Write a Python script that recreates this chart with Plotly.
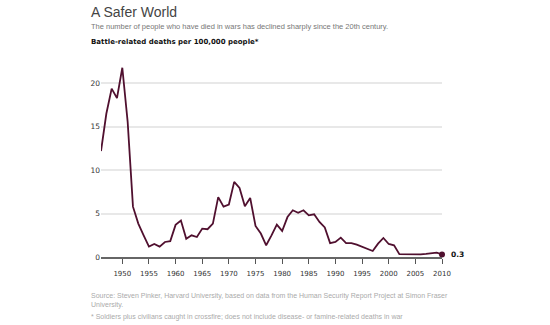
import plotly.graph_objects as go

years = list(range(1946, 2011))
deaths = [12.2, 16.5, 19.4, 18.3, 21.8, 15.6, 5.8, 3.85, 2.5, 1.2,
          1.5, 1.2, 1.73, 1.83, 3.7, 4.2, 2.1, 2.5, 2.3, 3.27,
          3.2, 3.85, 6.9, 5.8, 6.04, 8.65, 7.95, 5.85, 6.8, 3.58,
          2.7, 1.35, 2.5, 3.73, 3.0, 4.6, 5.38, 5.1, 5.38, 4.8,
          4.92, 4.04, 3.4, 1.6, 1.73, 2.23, 1.6, 1.6, 1.42, 1.2,
          0.92, 0.69, 1.54, 2.19, 1.5, 1.35, 0.33, 0.31, 0.3, 0.25,
          0.3, 0.35, 0.42, 0.5, 0.3]
x_ticks = list(range(1950, 2011, 5))
y_ticks = [0, 5, 10, 15, 20]
end_label = "0.3"

title = "A Safer World"
subtitle = "The number of people who have died in wars has declined sharply since the 20th century."
unit_label = "Battle-related deaths per 100,000 people*"
source = ("Source: Steven Pinker, Harvard University, based on data from the Human Security "
          "Report Project at Simon Fraser<br>University.")
footnote = "* Soldiers plus civilians caught in crossfire; does not include disease- or famine-related deaths in war"

W, H = 550, 325
L, R, T, B = 101, 108, 66, 68
pw, ph = W - L - R, H - T - B

def px(x):
    return (x - L) / pw

def py(y):
    return (H - B - y) / ph

LINE = "#50102f"

fig = go.Figure()
fig.add_trace(go.Scatter(x=years, y=deaths, mode="lines",
                         line=dict(color=LINE, width=1.8), hoverinfo="skip"))
fig.add_trace(go.Scatter(x=[years[-1]], y=[deaths[-1]], mode="markers",
                         marker=dict(color=LINE, size=6), cliponaxis=False,
                         hoverinfo="skip"))

annotations = [
    dict(text=title, x=px(89), y=py(12), font=dict(size=14, color="#444", family="Liberation Sans")),
    dict(text=subtitle, x=px(89), y=py(27), font=dict(size=7.5, color="#777", family="Liberation Sans")),
    dict(text="<b>" + unit_label + "</b>", x=px(89), y=py(42), font=dict(size=7, color="#111", family="DejaVu Sans")),
    dict(text=source, x=px(89), y=py(300), align="left", font=dict(size=7, color="#aaa", family="Liberation Sans")),
    dict(text=footnote, x=px(89), y=py(317), font=dict(size=7, color="#aaa", family="Liberation Sans")),
]
for a in annotations:
    a.update(xref="paper", yref="paper", xanchor="left", yanchor="middle", showarrow=False)
annotations.append(dict(text="<b>" + end_label + "</b>", x=years[-1], y=deaths[-1], xref="x", yref="y",
                        xanchor="left", yanchor="middle", xshift=7, showarrow=False,
                        font=dict(size=7.5, color="#111", family="DejaVu Sans")))

fig.update_layout(
    width=W, height=H, margin=dict(l=L, r=R, t=T, b=B),
    paper_bgcolor="white", plot_bgcolor="white", showlegend=False,
    annotations=annotations,
    xaxis=dict(range=[1946, 2010], tickvals=x_ticks, ticktext=[str(v) for v in x_ticks],
               showgrid=False, zeroline=False, showline=True, linecolor="#666", linewidth=2,
               ticks="outside", ticklen=5, tickwidth=1, tickcolor="#555", ticklabelstandoff=4,
               tickfont=dict(size=7, color="#333", family="DejaVu Sans")),
    yaxis=dict(range=[0, 22], tickvals=y_ticks, showgrid=True, gridcolor="#e8e8e8", gridwidth=1.5,
               zeroline=False, showline=False, ticks="",
               tickfont=dict(size=7.5, color="#333", family="DejaVu Sans")),
)

fig.write_html("out.html")
